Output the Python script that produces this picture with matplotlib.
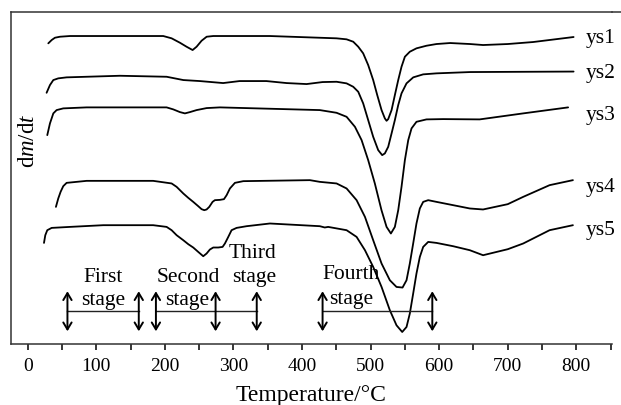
import matplotlib
matplotlib.use("Agg")
import matplotlib.pyplot as plt
from matplotlib.lines import Line2D

plt.rcParams['font.family'] = ['Liberation Serif', 'DejaVu Serif']
plt.rcParams['mathtext.fontset'] = 'custom'
plt.rcParams['mathtext.rm'] = 'Liberation Serif'
plt.rcParams['mathtext.it'] = 'Liberation Serif:italic'

# ---- data (temperature in degC, dm/dt in arbitrary units, curves offset) ----
ys1_T = [30.1, 35, 39.8, 47.1, 61.7, 197.7, 209.9, 222, 231.7, 240.5, 246.3, 253.6, 261, 270.6, 353,
         450.4, 465, 474.7, 482, 489.2, 496.5, 503.8, 509.7, 516, 520.8, 523.3, 525.7, 530.6, 535.4,
         540.3, 545.1, 550, 557.2, 566.9, 581.5, 596.1, 616, 645, 664, 700, 737, 796]
ys1_v = [300.7, 304, 306.3, 307.3, 308, 308, 305.7, 301.3, 297.3, 294, 297.3, 303.3, 307.3, 308, 308,
         305.7, 304.7, 302.3, 297.3, 290.7, 279, 264, 249, 234, 225.7, 223.3, 225, 234, 249,
         264, 277.3, 287.3, 292.3, 295.7, 298.3, 300, 301, 300, 299, 300, 302, 307]

ys2_T = [27.6, 32.5, 37.4, 44.6, 56.8, 134.5, 202.6, 227, 251, 285, 309, 348, 377.5, 406.7, 430,
         450.4, 465, 474.7, 482, 489.2, 496.5, 503.8, 511.1, 516.9, 520.8, 525.7, 530.6, 535.4,
         540.3, 545.1, 552.4, 562.2, 576.7, 596.1, 645, 796]
ys2_v = [251.3, 259, 264, 265.7, 266.7, 268.3, 267.3, 264, 263, 261, 263, 263, 261, 260, 262,
         262.3, 260.7, 257.3, 252.3, 240.7, 224, 207.3, 194, 189, 190.7, 197.3, 210.7, 224,
         239, 250.7, 260.7, 266.7, 269.7, 270.7, 272, 272.5]

ys3_T = [28.6, 32.5, 37.4, 42.2, 51.9, 85.9, 202.6, 212.3, 222, 229.3, 236.6, 246.3, 260.9, 280.3,
         426, 450.4, 465, 477.2, 486.9, 496.5, 506.2, 515.9, 523.3, 529.6, 535.4, 540.3, 545.1,
         550, 554.9, 559.7, 566.9, 581.5, 605.8, 659, 722.5, 788]
ys3_v = [209, 220.7, 230.7, 234, 235.7, 236.7, 236.7, 234.7, 232, 230.7, 232, 234, 236, 236.7,
         234, 231.3, 227.3, 217.3, 204, 184, 160.7, 134, 117.3, 110.7, 117.3, 134, 157.3,
         184, 204, 215.7, 222.3, 224.7, 225, 224.7, 230.7, 236.7]

ys4_T = [41.2, 44.6, 48, 51.9, 56.8, 86, 183, 209.9, 217.2, 226.9, 234.2, 241.4, 248.7, 253.6, 257.5,
         260.9, 264.8, 269.6, 273, 280.3, 286.2, 290.1, 294.9, 302.2, 314.4, 411.5,
         426, 450.4, 465, 479.6, 491.8, 503.8, 516, 528.1, 537.8, 546.6, 552.4, 557.2, 562.1,
         566.9, 571.8, 576.7, 584, 596.1, 620.4, 644.7, 664, 700, 722.5, 761, 795]
ys4_v = [137.3, 145.7, 152.3, 158, 161.3, 163.3, 163.3, 160.7, 157.3, 150.7, 146.3, 142.3, 138, 135, 134,
         134.7, 137.3, 142.3, 144, 144.3, 145, 149, 155.7, 161.3, 163, 164,
         162.3, 160.7, 155.7, 144, 127.3, 104, 80.7, 64, 57.3, 56.7, 64, 80.7, 100.7,
         120.7, 135.7, 142.3, 144, 142.3, 139, 135.7, 134.7, 140, 147.3, 159, 164]

ys5_T = [23.8, 25.7, 28.6, 35, 61.7, 110.2, 183, 202.6, 209.9, 217.2, 226.9, 234.2, 241.4, 248.7, 256,
         260.9, 265.7, 270.6, 277.9, 284.2, 287.6, 292.5, 297.3, 304.6, 319.2, 353.2,
         426, 433.2, 438.1, 465, 479.6, 491.8, 503.8, 516, 528.1, 537.8, 546.1, 552.4, 557.2,
         562.1, 566.9, 571.8, 576.7, 584, 596.1, 620.4, 644.7, 664, 700, 722.5, 761, 795]
ys5_v = [101.3, 109, 114, 116.3, 117.3, 119, 119, 117.3, 114, 109, 104, 100, 96.7, 92.3, 88,
         90.7, 94.7, 96.7, 96.7, 97.3, 100.7, 107.3, 114, 116.3, 118, 120.7,
         118, 116.7, 117.3, 114, 107.3, 94, 77.3, 57.3, 34, 19, 12.3, 17.3, 30.7,
         50.7, 70.7, 87.3, 97.3, 102.3, 101.3, 98, 94, 89, 95, 100.7, 114, 119]

series_names = ["ys1", "ys2", "ys3", "ys4", "ys5"]
label_levels = [306, 271, 229, 157, 114]

# stage markers (temperatures)
stage_arrows = [58, 162, 187, 274, 334, 430, 590]
stage_spans = [(58, 162), (187, 334), (430, 590)]
stage_texts = [("First", 110, 67), ("stage", 110, 44),
               ("Second", 234, 67), ("stage", 232, 44),
               ("Third", 328, 91), ("stage", 330, 67),
               ("Fourth", 472, 70), ("stage", 472, 45)]

xticks = [0, 100, 200, 300, 400, 500, 600, 700, 800]

# ---- figure ----
W, H = 621, 405
fig = plt.figure(figsize=(W / 100, H / 100), dpi=100)
L, R, T, B = 11, 612, 12, 344.3
ax = fig.add_axes([L / W, (H - B) / H, (R - L) / W, (B - T) / H])
ax.set_xlim(-24.3, 852)
ax.set_ylim(0, 332)

curves = [(ys1_T, ys1_v), (ys2_T, ys2_v), (ys3_T, ys3_v), (ys4_T, ys4_v), (ys5_T, ys5_v)]
for (tt, vv) in curves:
    ax.plot(tt, vv, color='black', lw=1.3, solid_joinstyle='round', solid_capstyle='round')

for name, lv in zip(series_names, label_levels):
    ax.text(813, lv, name, fontsize=15.5, ha='left', va='center')

# stage arrows
for t in stage_arrows:
    ax.annotate('', xy=(t, 13), xytext=(t, 53),
                arrowprops=dict(arrowstyle='<->,head_length=0.5,head_width=0.3',
                                lw=1.4, color='black', shrinkA=0, shrinkB=0))
for a, b in stage_spans:
    ax.plot([a, b], [33, 33], color='#222222', lw=1.0)
for s, tx, ty in stage_texts:
    ax.text(tx, ty, s, fontsize=15.5, ha='center', va='center')

# axes styling
ax.set_xticks(xticks)
ax.set_xticks(range(50, 851, 100), minor=True)
ax.set_yticks([])
ax.tick_params(axis='x', which='both', direction='out', length=4, width=1.1,
               labelsize=14, pad=6)
ax.spines['right'].set_visible(False)
for sp in ['left', 'top', 'bottom']:
    ax.spines[sp].set_linewidth(1.1)
    ax.spines[sp].set_color('#333333')
ax.set_xlabel('Temperature/°C', fontsize=17, labelpad=7)

# extend top border to the figure edge
fig.add_artist(Line2D([R / W, 1.0], [(H - T) / H, (H - T) / H],
                      transform=fig.transFigure, color='#333333', lw=1.1))

fig.text(29 / W, (H - 141) / H, r'd$m$/d$t$', rotation=90, fontsize=16.5,
         ha='center', va='center')

fig.savefig('out.png', dpi=100)
